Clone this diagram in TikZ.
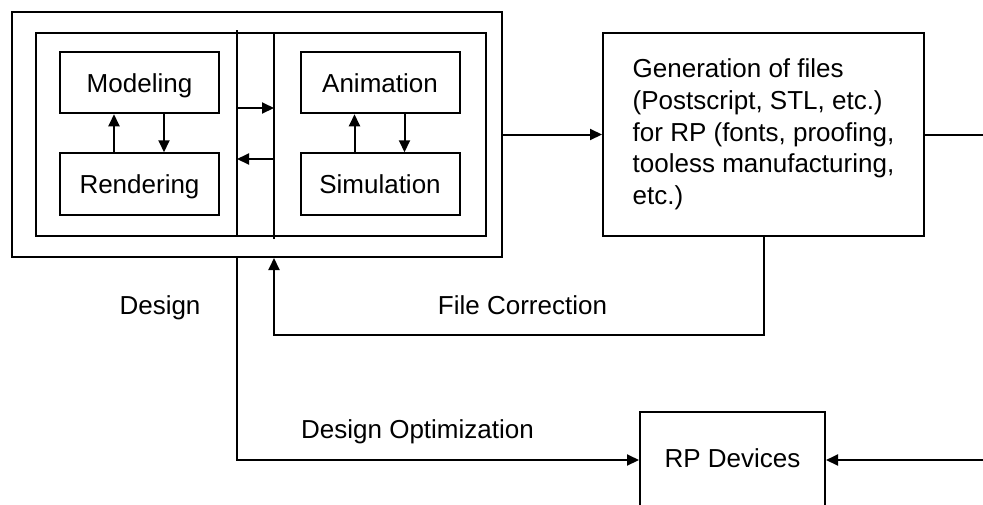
\documentclass[tikz,border=0pt]{standalone}
\usepackage{fontspec}
\setmainfont{Liberation Sans}
\usetikzlibrary{shapes, arrows.meta, positioning, calc}

\tikzset{
	box/.style={draw, line width=1pt, inner sep=0pt},
	smallbox/.style={box, minimum width=79.5pt, minimum height=30.75pt, text height=9.75pt, text depth=0pt},
	lbl/.style={anchor=base, inner sep=0pt},
}

\begin{document}
\begin{tikzpicture}[x=0.5pt, y=-0.5pt, line width=1pt, >={Triangle[length=6pt,width=5.5pt]},
		font=\fontsize{13}{15.85}\selectfont]
	\useasboundingbox (0,0) rectangle (983,504);
	\clip (0,0) rectangle (983,504);

	% design block
	\node [box, minimum width=245pt, minimum height=122.5pt] (outer) at (257,134.5) {};
	\node [box, minimum width=225pt, minimum height=101.5pt] (inner) at (261,134.5) {};

	\node [smallbox] (model) at (139.5,82.5)  {Modeling};
	\node [smallbox] (rend)  at (139.5,184)   {Rendering};
	\node [smallbox] (anim)  at (380,82.5)    {Animation};
	\node [smallbox] (sim)   at (380,184)     {Simulation};

	\foreach \top/\bot in {model/rend, anim/sim} {
		\draw[->] ([xshift=-12.75pt]\bot.north) -- ([xshift=-12.75pt]\top.south);
		\draw[->] ([xshift=12.25pt]\top.south) -- ([xshift=12.25pt]\bot.north);
	}

	% bus between the two halves
	\coordinate (busLt) at (237,30);
	\coordinate (busLb) at (237,236);
	\coordinate (busRt) at (274,33);
	\coordinate (busRb) at (274,239);
	\coordinate (busA)  at (237,108);
	\coordinate (busB)  at (274,159);
	\draw (busLt) -- (busLb);
	\draw (busRt) -- (busRb);
	\draw[->] (busA) -- (busA -| busRt);
	\draw[->] (busB) -- (busB -| busLt);

	% file generation
	\node [box, minimum width=160.5pt, minimum height=101.5pt, align=left] (gen) at (763.5,134.5)
		{Generation of files\\(Postscript, STL, etc.)\\for RP (fonts, proofing,\\tooless manufacturing,\\etc.)};
	\coordinate (genout) at (983,134.5);
	\draw[->] (outer.east) -- (gen.west);
	\draw (gen.east) -- (genout);

	% RP devices
	\node [box, minimum width=92.5pt, minimum height=48pt, text height=7pt, text depth=0pt] (rp) at (732.5,460) {RP Devices};
	\coordinate (rpin) at (983,460);
	\draw[->] (rpin) -- (rp.east);

	% feedback paths
	\coordinate (fc) at (274,335);
	\draw[->] (gen.south) |- (fc) -- (outer.south -| fc);
	\draw[->] (outer.south -| busLb) |- (rp.west);

	\node [lbl] (designlbl) at (160,314)   {Design};
	\node [lbl] (fclbl)     at (522.5,314) {File Correction};
	\node [lbl] (optlbl)    at (417.5,438) {Design Optimization};

\end{tikzpicture}
\end{document}
